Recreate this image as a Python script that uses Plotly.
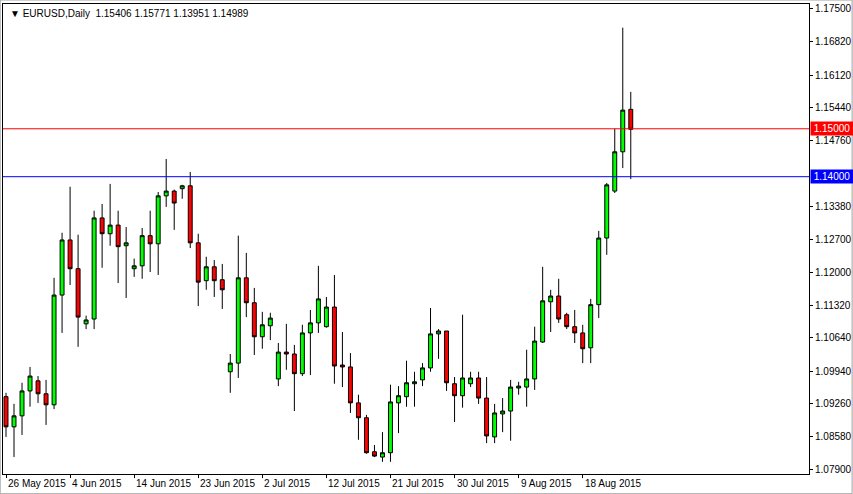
import pandas as pd
import plotly.graph_objects as go

# EURUSD daily, 26 May 2015 onwards (broker shows Sunday bars, no Saturdays)
dates = pd.bdate_range('2015-05-26', periods=79, freq='C', weekmask='Sun Mon Tue Wed Thu Fri')

opens = [1.0941, 1.0878, 1.0901, 1.0953, 1.0974, 1.0947, 1.0924, 1.1153, 1.1268, 1.1208,
         1.1093, 1.1103, 1.1314, 1.1281, 1.1299, 1.1256, 1.1208, 1.1214, 1.1277, 1.1260,
         1.1360, 1.1370, 1.1375, 1.1381, 1.1262, 1.1183, 1.1212, 1.1185, 1.0993, 1.1011,
         1.1189, 1.1137, 1.1066, 1.1089, 1.0978, 1.1034, 1.1030, 1.0989, 1.1074, 1.1095,
         1.1087, 1.1128, 1.1007, 1.1003, 1.0928, 1.0897, 1.0826, 1.0815, 1.0824, 1.0928,
         1.0941, 1.0968, 1.0976, 1.1001, 1.1072, 1.1078, 1.0968, 1.0943, 1.0968, 1.0980,
         1.0938, 1.0857, 1.0905, 1.0911, 1.0959, 1.0961, 1.0978, 1.1055, 1.1139, 1.1151,
         1.1112, 1.1087, 1.1074, 1.1043, 1.1133, 1.1272, 1.1370, 1.1452, 1.15406]
highs = [1.0949, 1.0926, 1.0970, 1.1003, 1.0984, 1.0976, 1.1189, 1.1283, 1.1379, 1.1279,
         1.1110, 1.1329, 1.1343, 1.1385, 1.1329, 1.1295, 1.1229, 1.1293, 1.1329, 1.1368,
         1.1437, 1.1373, 1.1383, 1.1410, 1.1281, 1.1233, 1.1226, 1.1218, 1.1030, 1.1277,
         1.1241, 1.1168, 1.1118, 1.1116, 1.1053, 1.1093, 1.1049, 1.1091, 1.1122, 1.1214,
         1.1149, 1.1195, 1.1076, 1.1032, 1.0945, 1.0903, 1.0840, 1.0867, 1.0966, 1.0963,
         1.1016, 1.0993, 1.1011, 1.1126, 1.1082, 1.1078, 1.0982, 1.1112, 1.0993, 1.0993,
         1.0982, 1.0926, 1.0938, 1.0976, 1.0972, 1.1039, 1.1087, 1.1212, 1.1164, 1.1187,
         1.1116, 1.1122, 1.1091, 1.1145, 1.1287, 1.1387, 1.1500, 1.1711, 1.15771]
lows = [1.0857, 1.0815, 1.0861, 1.0920, 1.0928, 1.0882, 1.0915, 1.1074, 1.1174, 1.1045,
        1.1082, 1.1082, 1.1210, 1.1256, 1.1178, 1.1147, 1.1191, 1.1187, 1.1201, 1.1195,
        1.1337, 1.1289, 1.1354, 1.1251, 1.1130, 1.1164, 1.1149, 1.1124, 1.0949, 1.0980,
        1.1107, 1.1028, 1.1041, 1.1059, 1.0963, 1.0997, 1.0911, 1.0984, 1.0986, 1.1074,
        1.1085, 1.0968, 1.0961, 1.0907, 1.0851, 1.0822, 1.0815, 1.0805, 1.0805, 1.0865,
        1.0920, 1.0920, 1.0963, 1.0993, 1.1020, 1.0953, 1.0888, 1.0918, 1.0961, 1.0926,
        1.0844, 1.0844, 1.0867, 1.0849, 1.0945, 1.0920, 1.0955, 1.1053, 1.1076, 1.1095,
        1.1082, 1.1053, 1.1011, 1.1011, 1.1105, 1.1237, 1.1366, 1.1418, 1.13951]
closes = [1.0878, 1.0901, 1.0953, 1.0984, 1.0947, 1.0924, 1.1153, 1.1268, 1.1208, 1.1107,
          1.1101, 1.1314, 1.1281, 1.1299, 1.1254, 1.1262, 1.1214, 1.1277, 1.1260, 1.1360,
          1.1370, 1.1345, 1.1381, 1.1262, 1.1180, 1.1212, 1.1183, 1.1164, 1.1011, 1.1189,
          1.1137, 1.1066, 1.1091, 1.1105, 1.1034, 1.1030, 1.0989, 1.1074, 1.1095, 1.1145,
          1.1128, 1.1005, 1.1003, 1.0928, 1.0897, 1.0824, 1.0817, 1.0824, 1.0930, 1.0943,
          1.0970, 1.0972, 1.1001, 1.1072, 1.1078, 1.0970, 1.0943, 1.0980, 1.0980, 1.0938,
          1.0859, 1.0907, 1.0911, 1.0961, 1.0963, 1.0978, 1.1057, 1.1141, 1.1151, 1.1103,
          1.1087, 1.1074, 1.1041, 1.1133, 1.1272, 1.1383, 1.1452, 1.1539, 1.14989]

price_ticks = [1.17500, 1.16820, 1.16120, 1.15440, 1.14760, 1.13380, 1.12700,
               1.12000, 1.11320, 1.10640, 1.09940, 1.09260, 1.08580, 1.07900]
levels = [1.15, 1.14]
level_colors = ['#ff0000', '#0000ff']

FONT = 'Liberation Sans'
idx = list(range(len(dates)))

fig = go.Figure()
fig.add_trace(go.Candlestick(
    x=idx, open=opens, high=highs, low=lows, close=closes,
    increasing=dict(fillcolor='#00ff00', line=dict(color='black', width=1)),
    decreasing=dict(fillcolor='#ff0000', line=dict(color='black', width=1)),
    whiskerwidth=0, showlegend=False, hoverinfo='skip'))

for lv, c in zip(levels, level_colors):
    fig.add_hline(y=lv, line=dict(color=c, width=1))
    fig.add_annotation(x=1, xref='paper', y=lv, yref='y', xanchor='left', yanchor='middle',
                       text='%.5f' % lv, showarrow=False, bgcolor=c,
                       font=dict(color='white', size=10, family=FONT),
                       borderpad=1, xshift=1, width=40)

# date labels, MT4 style: text starts at the tick
for i in range(0, len(dates), 8):
    fig.add_annotation(x=i, xref='x', y=0, yref='paper', yshift=-2, xanchor='left', yanchor='top',
                       text=f'{dates[i].day} {dates[i]:%b %Y}', showarrow=False,
                       font=dict(size=10, family=FONT, color='black'))

fig.add_annotation(x=0, xref='paper', y=1, yref='paper', xanchor='left', yanchor='top', xshift=5, yshift=-2,
                   text='▼ EURUSD,Daily  %.5f %.5f %.5f %.5f' % (opens[-1], highs[-1], lows[-1], closes[-1]),
                   showarrow=False, font=dict(size=10, family=FONT, color='black'))

# window frame
fig.add_shape(type='rect', xref='paper', yref='paper', x0=-0.0035, x1=1.0535, y0=-0.042, y1=1.0085,
              line=dict(color='#a0a0a0', width=1))

axis_common = dict(showline=True, linecolor='black', linewidth=1, mirror=True, showgrid=False,
                   zeroline=False, automargin=False)
fig.update_layout(
    width=853, height=494,
    margin=dict(l=3, r=44, t=4, b=20),
    plot_bgcolor='white', paper_bgcolor='white',
    xaxis=dict(range=[-0.375, 100.25], tickvals=list(range(0, len(dates), 8)), ticktext=[''] * 10,
               ticks='outside', ticklen=3, tickcolor='black', rangeslider=dict(visible=False), **axis_common),
    yaxis=dict(range=[1.07796, 1.17604], side='right', tickvals=price_ticks,
               ticktext=['%.5f' % t for t in price_ticks], ticks='outside', ticklen=3, tickcolor='black',
               tickfont=dict(size=10, family=FONT, color='black'), **axis_common),
)

fig.write_html("out.html", config={'displayModeBar': False},
               post_script="document.body.style.margin='0';")
